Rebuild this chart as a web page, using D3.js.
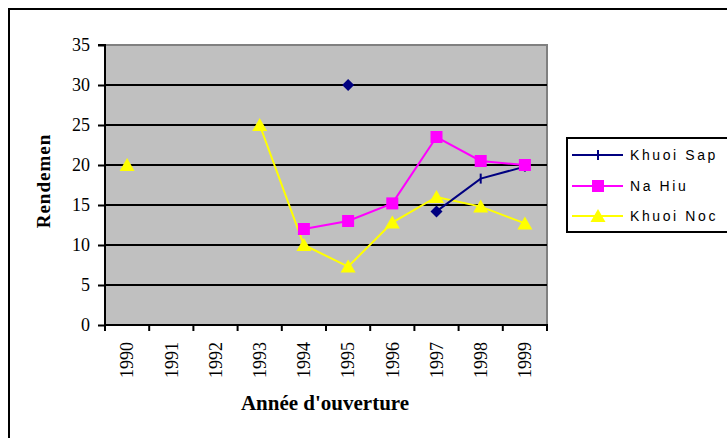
<!DOCTYPE html>
<html>
<head>
<meta charset="utf-8">
<script src="https://cdn.jsdelivr.net/npm/d3@7"></script>
<style>
  body { margin: 0; background: #fff; }
  svg { display: block; }
</style>
</head>
<body>
<svg id="chart"></svg>
<script>
// données
const years = ['1990', '1991', '1992', '1993', '1994', '1995', '1996', '1997', '1998', '1999'];
const khuoiSap = [null, null, null, null, null, 30, null, 14.2, 18.3, 19.8];
const khuoiSapShape = [null, null, null, null, null, 'diamond', null, 'diamond', 'tick', 'tick'];
const naHiu = [null, null, null, null, 12, 13, 15.2, 23.5, 20.5, 20];
const khuoiNoc = [20, null, null, 25, 10, 7.3, 12.8, 16, 14.8, 12.7];
const yTicks = [0, 5, 10, 15, 20, 25, 30, 35];
const seriesNames = ['Khuoi Sap', 'Na Hiu', 'Khuoi Noc'];

const W = 727, H = 438;
const plot = { left: 105, right: 547, top: 45, bottom: 325 };
const serif = '"Liberation Serif", "Times New Roman", serif';

const svg = d3.select('#chart').attr('width', W).attr('height', H);

// cadre extérieur (coupé à droite et en bas)
svg.append('rect')
  .attr('x', 9).attr('y', 9)
  .attr('width', 760).attr('height', 460)
  .attr('fill', '#fff').attr('stroke', '#000').attr('stroke-width', 2);

const x = d3.scaleBand().domain(years).range([plot.left, plot.right]).padding(0);
const xEdge = d3.scaleLinear().domain([0, years.length]).range([plot.left, plot.right]);
const y = d3.scaleLinear().domain([0, 35]).range([plot.bottom, plot.top]);
const cx = (i) => x(years[i]) + x.bandwidth() / 2;

// zone de traçage grise
svg.append('rect')
  .attr('x', plot.left).attr('y', plot.top)
  .attr('width', plot.right - plot.left).attr('height', plot.bottom - plot.top)
  .attr('fill', '#c0c0c0');
svg.append('path')
  .attr('d', `M${plot.left},${plot.top}H${plot.right}V${plot.bottom}`)
  .attr('fill', 'none').attr('stroke', '#808080').attr('stroke-width', 2);

// quadrillage
svg.append('g').selectAll('line')
  .data(yTicks.filter(d => d > 0 && d < 35))
  .enter().append('line')
  .attr('x1', plot.left).attr('x2', plot.right)
  .attr('y1', d => y(d)).attr('y2', d => y(d))
  .attr('stroke', '#000').attr('stroke-width', 2);

// axe Y
const yAxis = svg.append('g')
  .attr('transform', `translate(${plot.left},0)`)
  .call(d3.axisLeft(y).tickValues(yTicks).tickSize(7).tickPadding(8).tickFormat(d3.format('d')));
yAxis.attr('font-family', serif).attr('font-size', 18);
yAxis.select('.domain').attr('stroke', '#000').attr('stroke-width', 2).attr('d', `M-7,${plot.top}H0V${plot.bottom}`);
yAxis.selectAll('.tick line').attr('stroke', '#000').attr('stroke-width', 2);
yAxis.selectAll('text').attr('fill', '#000');

// axe X : graduations aux bords des catégories
const xTicksG = svg.append('g').attr('transform', `translate(0,${plot.bottom})`);
xTicksG.append('line')
  .attr('x1', plot.left - 1).attr('x2', plot.right + 1)
  .attr('stroke', '#000').attr('stroke-width', 2);
xTicksG.selectAll('line.tk')
  .data(d3.range(years.length + 1))
  .enter().append('line').attr('class', 'tk')
  .attr('x1', d => xEdge(d)).attr('x2', d => xEdge(d))
  .attr('y1', 0).attr('y2', 6)
  .attr('stroke', '#000').attr('stroke-width', 2);

const xAxis = svg.append('g')
  .attr('transform', `translate(0,${plot.bottom})`)
  .call(d3.axisBottom(x).tickSize(0));
xAxis.attr('font-family', serif).attr('font-size', 18);
xAxis.select('.domain').remove();
xAxis.selectAll('text')
  .attr('fill', '#000')
  .attr('text-anchor', 'end')
  .attr('transform', 'translate(0,17) rotate(-90)')
  .attr('x', 0).attr('y', 0).attr('dy', '0.35em');

// titres des axes
svg.append('text')
  .attr('transform', 'translate(43,181) rotate(-90)')
  .attr('text-anchor', 'middle').attr('dy', '0.35em')
  .attr('font-family', serif)
  .attr('font-weight', 'bold').attr('font-size', 19)
  .attr('letter-spacing', 1)
  .text('Rendemen');
svg.append('text')
  .attr('x', 325).attr('y', 410)
  .attr('text-anchor', 'middle')
  .attr('font-family', serif)
  .attr('font-weight', 'bold').attr('font-size', 21)
  .text("Année d'ouverture");

// séries
const line = d3.line()
  .defined(d => d.v != null)
  .x(d => cx(d.i))
  .y(d => y(d.v));

function toPts(arr) { return arr.map((v, i) => ({ v: v, i: i })); }

const colors = ['#000080', '#ff00ff', '#ffff00'];
const allSeries = [khuoiSap, naHiu, khuoiNoc];

function drawMarker(g, kind, px, py, color) {
  if (kind === 'square') {
    g.append('rect').attr('x', px - 6).attr('y', py - 6).attr('width', 12).attr('height', 12).attr('fill', color);
  } else if (kind === 'triangle') {
    g.append('path').attr('d', `M${px},${py - 7}L${px + 7.5},${py + 6}L${px - 7.5},${py + 6}Z`).attr('fill', color);
  } else if (kind === 'diamond') {
    g.append('path').attr('d', `M${px},${py - 6}L${px + 6},${py}L${px},${py + 6}L${px - 6},${py}Z`).attr('fill', color);
  } else if (kind === 'tick') {
    g.append('line').attr('x1', px).attr('x2', px).attr('y1', py - 5).attr('y2', py + 5)
      .attr('stroke', color).attr('stroke-width', 2);
  }
}

// ordre de dessin : Khuoi Noc, Khuoi Sap, Na Hiu (les carrés roses sont au-dessus)
[2, 0, 1].forEach(k => {
  const g = svg.append('g');
  g.append('path')
    .datum(toPts(allSeries[k]))
    .attr('d', line)
    .attr('fill', 'none').attr('stroke', colors[k]).attr('stroke-width', 2);
  allSeries[k].forEach((v, i) => {
    if (v == null) return;
    const kind = k === 0 ? khuoiSapShape[i] : (k === 1 ? 'square' : 'triangle');
    drawMarker(g, kind, cx(i), y(v), colors[k]);
  });
});

// légende
const leg = svg.append('g');
leg.append('rect')
  .attr('x', 567).attr('y', 138).attr('width', 200).attr('height', 94)
  .attr('fill', '#fff').attr('stroke', '#000').attr('stroke-width', 2);
const legKinds = ['tick', 'square', 'triangle'];
const legY = [155, 186, 216];
seriesNames.forEach((name, k) => {
  leg.append('line')
    .attr('x1', 572).attr('x2', 623).attr('y1', legY[k]).attr('y2', legY[k])
    .attr('stroke', colors[k]).attr('stroke-width', 2);
  drawMarker(leg, legKinds[k], 598, legY[k], colors[k]);
  leg.append('text')
    .attr('x', 630).attr('y', legY[k]).attr('dy', '0.36em')
    .attr('font-family', '"Liberation Sans", Arial, sans-serif')
    .attr('font-size', 14).attr('letter-spacing', 2.6).attr('fill', '#000')
    .text(name);
});
</script>
</body>
</html>
